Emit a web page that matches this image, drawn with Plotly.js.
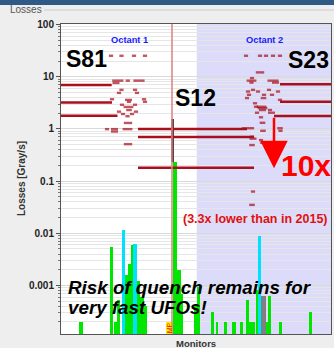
<!DOCTYPE html>
<html>
<head>
<meta charset="utf-8">
<script src="https://cdn.plot.ly/plotly-3.0.1.min.js"></script>
<style>html,body{margin:0;padding:0;background:#eeeeee;}#chart{width:334px;height:348px;}</style>
</head>
<body>
<div id="chart"></div>
<script>
// ---- DATA ----
// y-axis tick labels
var tickVals = [0.001, 0.01, 0.1, 1, 10, 100];
var tickLabels = ["0.001", "0.01", "0.1", "1", "10", "100"];

// Loss bars per monitor (monitor index, loss in Gray/s)
var greenMon = [20, 50.7, 54.3, 57.8, 65.7, 68.9, 71.7, 77.3, 81, 84.5, 113.8, 118, 121, 134.3, 137.3, 151.3, 156, 164.7, 172.7, 180.5, 186.3, 190.8, 195.8, 205.5, 208.7, 219.7, 249.7];
var greenLoss = [0.0002, 0.0055, 0.0002, 0.00053, 0.0016, 0.0026, 0.006, 0.0012, 0.0006, 0.0004, 0.23, 0.002, 0.0007, 0.00042, 0.00095, 0.00031, 0.0002, 0.0002, 0.0002, 0.0002, 0.00053, 0.0002, 0.00082, 0.0002, 0.00063, 0.0002, 0.00031];
var greenWidth = [3.3, 3.3, 3.3, 3.3, 3.3, 3, 3, 3.3, 3.3, 3, 4.5, 3.3, 2.6, 2.7, 3.3, 3.3, 2.6, 3.3, 4, 3, 3.3, 5.7, 2.3, 2.5, 3.3, 3.3, 3.3];
var cyanMon = [62.3, 74, 198.7];
var cyanLoss = [0.0116, 0.0062, 0.009];
var grayMon = [202.5];
var grayLoss = [0.00063];
var mpMon = [108.3];
var mpLoss = [0.0002];

// S12 monitor reading above its bar
var s12Mon = [111.6, 111.6];
var s12Loss = [0.23, 1.55];

// Threshold dashes (monitor index, threshold, dash length)
var thrMon = [50, 60.5, 73, 84, 56.8, 66.8, 78, 55, 60.5, 74, 58, 76, 51, 83, 67.5, 68, 84, 61, 74, 67.5, 68, 58, 75, 62, 71, 66.5, 67, 46, 53.5, 66.5, 53.5, 67,
  185, 199, 205, 212, 219, 199, 191, 190.5, 212, 190.5, 214.5, 192, 208, 187, 197, 217, 188, 203, 211, 186, 202.5, 219, 194, 195, 200.5, 201.5, 201.5, 209, 196, 210.5, 200, 201.5, 185, 191, 219, 202, 219.5, 191, 192, 200, 202, 191, 192, 191];
var thrVal = [25.2, 25.2, 25.2, 25.2, 8.4, 8.4, 8.4, 7.6, 5.6, 5.6, 4.9, 4.9, 3.7, 3.7, 3.6, 3.3, 3.3, 2.9, 2.9, 2.63, 2.3, 2.14, 2.14, 1.93, 1.93, 1.75, 1.3, 0.99, 0.99, 0.99, 0.89, 0.51,
  25.2, 25.2, 25.2, 25.2, 25.2, 12.1, 9.4, 8.4, 8.4, 7.7, 7.7, 5.6, 5.6, 5.2, 5.2, 5.2, 4.5, 4.5, 4.5, 3.9, 3.9, 3.6, 3.1, 2.66, 2.66, 2.5, 2.3, 2.3, 2.04, 2.04, 1.67, 1.31, 1.03, 1.03, 1.03, 0.92, 0.92, 0.71, 0.65, 0.61, 0.54, 0.49, 0.063, 0.035];
var thrLen = [3, 3, 3, 3, 8, 3, 8, 5, 3, 3, 3, 3, 3, 3, 5, 3, 3, 3, 3, 7, 4, 3, 3, 3, 3, 3, 6, 3, 5, 7, 5, 6,
  3, 3, 3, 3, 3, 6, 3, 7, 8, 3, 5, 3, 3, 3, 3, 3, 3, 3, 3, 3, 4, 3, 3, 3, 7, 7, 5, 3, 3, 5, 3, 4, 6, 3, 4, 4, 3, 3, 5, 3, 4, 4, 3, 4];

// Long threshold levels (level, from monitor, to monitor)
var lvlVal = [6.9, 3.2, 1.79, 1.0, 0.70, 0.18, 7.15, 3.3, 1.77];
var lvlFrom = [0, 0, 0, 77, 77, 77, 219, 219, 213];
var lvlTo = [50.7, 51, 56.5, 186, 193, 193, 270, 270, 270];

// Octant 2 starts at this monitor; IP line monitor
var octant2Start = 135.7;
var ipMon = 111;

// ---- BUILD ----
var darkRed = '#a8101e';
var lx = [], ly = [];
for (var i = 0; i < lvlVal.length; i++) {
  lx.push(lvlFrom[i], lvlTo[i], null);
  ly.push(lvlVal[i], lvlVal[i], null);
}
var minorVals = [];
for (var k = -4; k <= 1; k++) for (var m = 2; m <= 9; m++) minorVals.push(m * Math.pow(10, k));

var FONT = 'Arial, "Liberation Sans", sans-serif';

var traces = [
  {type: 'bar', x: greenMon, y: greenLoss, width: greenWidth, marker: {color: '#00e600', line: {width: 0}}, hoverinfo: 'skip'},
  {type: 'bar', x: cyanMon, y: cyanLoss, width: 3.3, marker: {color: '#00e0ff', line: {width: 0}}, hoverinfo: 'skip'},
  {type: 'bar', x: grayMon, y: grayLoss, width: 4.3, marker: {color: '#808080', line: {width: 0}}, hoverinfo: 'skip'},
  {type: 'bar', x: mpMon, y: mpLoss, width: 6.5, marker: {color: '#ffee00', line: {width: 0}}, hoverinfo: 'skip'},
  {type: 'scatter', mode: 'lines', x: s12Mon, y: s12Loss, line: {color: '#3a2020', width: 2.5}, hoverinfo: 'skip'},
  {type: 'scatter', mode: 'lines', x: lx, y: ly, line: {color: darkRed, width: 2.5}, hoverinfo: 'skip', connectgaps: false},
  {type: 'scatter', mode: 'markers', x: thrMon, y: thrVal,
   marker: {symbol: 'line-ew', size: thrLen, line: {color: darkRed, width: 2.4}}, hoverinfo: 'skip'}
];

function px2x(px) { return (px - 61) / 270; }
function px2y(py) { return (334 - py) / 310; }
function note(text, px, py, size, color, extra) {
  var a = {text: text, xref: 'paper', yref: 'paper', x: px2x(px), y: px2y(py), xanchor: 'center', yanchor: 'middle',
           showarrow: false, font: {family: FONT, size: size, color: color}};
  if (extra) for (var key in extra) a[key] = extra[key];
  return a;
}

var annotations = [
  note('Losses', 8, 9, 10, '#555', {xanchor: 'left'}),
  note('<b>Losses [Gray/s]</b>', 21, 179, 10, '#333', {textangle: -90}),
  note('<b>Monitors</b>', 196, 343, 9.5, '#333'),
  note('<b>Octant 1</b>', 129.5, 40, 9.3, '#1a1aff'),
  note('<b>Octant 2</b>', 264.5, 40, 9.3, '#1a1aff'),
  note('<b>S81</b>', 86, 59, 23, '#000'),
  note('<b>S23</b>', 308.5, 60, 23, '#000'),
  note('<b>S12</b>', 195.7, 98, 23, '#000'),
  note('<b>10x</b>', 305.7, 166, 30, '#ff0000'),
  note('<b>(3.3x lower than in 2015)</b>', 255.5, 219, 12.5, '#e01010'),
  note('<b><i>Risk of quench remains for</i></b>', 66, 287, 18.8, '#000', {xanchor: 'left'}),
  note('<b><i>very fast UFOs!</i></b>', 66, 307, 18.8, '#000', {xanchor: 'left'}),
  note('MP', 169.3, 328, 7, '#ff0000', {textangle: -90}),
  {text: '', x: 213, y: -0.755, xref: 'x', yref: 'y', ax: 0, ay: -52, showarrow: true, arrowhead: 2, arrowsize: 2.2, arrowwidth: 2.5, arrowcolor: '#ff0000', standoff: 0}
];

var shapes = [
  {type: 'rect', xref: 'x', yref: 'paper', x0: octant2Start, x1: 270, y0: 0, y1: 1, fillcolor: '#dcdcfa', line: {width: 0}, layer: 'below'},
  {type: 'line', xref: 'x', yref: 'paper', x0: ipMon, x1: ipMon, y0: 0, y1: 1, line: {color: '#d88080', width: 1.5}, layer: 'above'},
  {type: 'rect', xref: 'paper', yref: 'paper', x0: px2x(-2), x1: px2x(336), y0: px2y(5), y1: px2y(-2), fillcolor: '#2e5a85', line: {width: 0}},
  {type: 'line', xref: 'paper', yref: 'paper', x0: px2x(44), x1: px2x(334), y0: px2y(10), y1: px2y(10), line: {color: '#c8cdd4', width: 1}}
];

var layout = {
  width: 334, height: 348,
  margin: {l: 61, r: 3, t: 24, b: 14, pad: 0},
  paper_bgcolor: '#eeeeee', plot_bgcolor: '#ffffff',
  showlegend: false, barmode: 'overlay', bargap: 0,
  font: {family: FONT},
  xaxis: {range: [0, 270], showgrid: false, zeroline: false, showticklabels: false, ticks: '',
          showline: true, linecolor: '#555', linewidth: 1, mirror: true},
  yaxis: {type: 'log', range: [-3.93, 2.01], tickmode: 'array', tickvals: tickVals, ticktext: tickLabels,
          ticks: 'outside', ticklen: 4, tickcolor: '#555', showline: true, linecolor: '#555', linewidth: 1, mirror: true,
          tickfont: {family: FONT, size: 10, color: '#222', weight: 'bold'},
          showgrid: true, gridcolor: '#d9d9d9', gridwidth: 1, zeroline: false,
          minor: {tickmode: 'array', tickvals: minorVals, ticks: 'outside', ticklen: 2, tickcolor: '#777', showgrid: true, gridcolor: '#e6e6e6', gridwidth: 1}},
  annotations: annotations,
  shapes: shapes
};

Plotly.newPlot('chart', traces, layout, {staticPlot: true, displayModeBar: false});
</script>
</body>
</html>
